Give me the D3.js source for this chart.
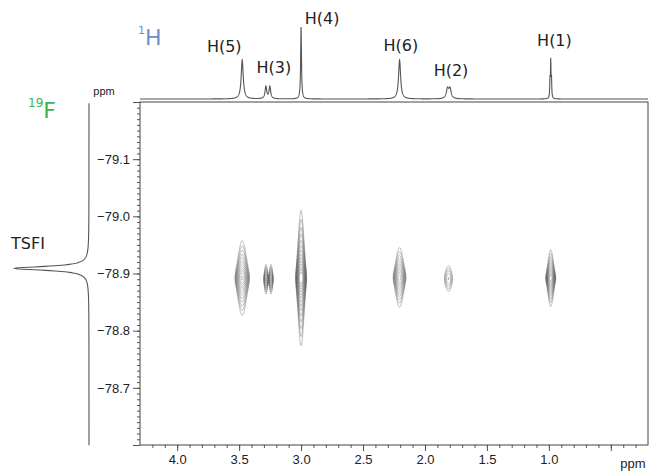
<!DOCTYPE html>
<html>
<head>
<meta charset="utf-8">
<script src="https://cdn.jsdelivr.net/npm/d3@7"></script>
<style>
  body { margin: 0; background: #fff; }
  svg { display: block; }
  .tick text { font-family: "Liberation Sans", Arial, sans-serif; font-size: 13px; fill: #222; }
  .lbl { font-family: "DejaVu Sans", Verdana, sans-serif; font-size: 16px; fill: #222; }
</style>
</head>
<body>
<svg id="chart" width="650" height="472"></svg>
<script>
// 1H peaks (ppm, relative height, half width ppm)
var hPos    = [3.475, 3.284, 3.252, 3.000, 2.205, 1.818, 1.798, 0.991, 0.985, 0.979];
var hHeight = [0.54,  0.17,  0.17,  1.00,  0.54,  0.135, 0.135, 0.25,  0.50,  0.25];
var hWidth  = [0.010, 0.008, 0.008, 0.004, 0.010, 0.011, 0.011, 0.0025, 0.0025, 0.0025];

// labels above the 1H trace
var hLabels = ["H(5)", "H(3)", "H(4)", "H(6)", "H(2)", "H(1)"];
var hLabelPpm = [3.62, 3.22, 2.83, 2.195, 1.79, 0.955];
var hLabelY = [46, 67, 18, 45, 70, 40];

// 19F peak
var fPos = -78.909, fHeight = 1.0, fWidth = 0.0042;

// cross peaks: 1H ppm, 19F ppm, intensity, gaussian sigma (1H), lorentz hw (19F)
var crossX  = [3.475, 3.283, 3.243, 3.000, 2.205, 1.810, 0.985];
var crossY  = [-78.892, -78.890, -78.890, -78.892, -78.893, -78.891, -78.892];
var crossA  = [25, 9, 9, 60, 20, 3.2, 40];
var crossSx = [0.023, 0.0085, 0.0085, 0.0154, 0.021, 0.0216, 0.0147];
var crossGy = [0.0134, 0.0095, 0.0095, 0.0156, 0.012, 0.015, 0.008];

var xTicks = [4.0, 3.5, 3.0, 2.5, 2.0, 1.5, 1.0, 0.5];
var yTicks = [-79.2, -79.1, -79.0, -78.9, -78.8, -78.7, -78.6];

var svg = d3.select('#chart');
var pLeft = 140, pRight = 648, pTop = 102, pBottom = 445;

var x = d3.scaleLinear().domain([4.3, 0.2]).range([pLeft, pRight]);
var y = d3.scaleLinear().domain([-79.2, -78.6]).range([pTop, pBottom]);

// x axis, minor then major
svg.append('g')
    .attr('transform', 'translate(0,' + pBottom + ')')
    .call(d3.axisBottom(x).tickValues(d3.range(42, 2, -1).map(function(d) { return d / 10; }))
        .tickSize(3).tickFormat(''))
    .call(function(g) { g.select('.domain').remove(); });
svg.append('g')
    .attr('transform', 'translate(0,' + pBottom + ')')
    .call(d3.axisBottom(x).tickValues(xTicks).tickSize(6).tickPadding(4)
        .tickFormat(function(d) { return d === 0.5 ? '' : d3.format('.1f')(d); }))
    .call(function(g) { g.select('.domain').remove(); });

// y axis
svg.append('g')
    .attr('transform', 'translate(' + pLeft + ',0)')
    .call(d3.axisLeft(y).tickValues(d3.range(-7920, -7860, 1).map(function(d) { return d / 100; }))
        .tickSize(3).tickFormat(''))
    .call(function(g) { g.select('.domain').remove(); });
svg.append('g')
    .attr('transform', 'translate(' + pLeft + ',0)')
    .call(d3.axisLeft(y).tickValues(yTicks).tickSize(7).tickPadding(3)
        .tickFormat(function(d) { return (d === -79.2 || d === -78.6) ? '' : d3.format('.1f')(d); }))
    .call(function(g) { g.select('.domain').remove(); });

svg.selectAll('.tick line').attr('stroke', '#555');

// frame
svg.append('rect')
    .attr('x', pLeft).attr('y', pTop)
    .attr('width', pRight - pLeft).attr('height', pBottom - pTop)
    .attr('fill', 'none').attr('stroke', '#444').attr('stroke-width', 1);

// 2D contours
var nx = pRight - pLeft, ny = pBottom - pTop;
var values = new Float64Array(nx * ny);
for (var j = 0; j < ny; j++) {
    var yv = y.invert(pTop + j + 0.5);
    for (var i = 0; i < nx; i++) {
        var xv = x.invert(pLeft + i + 0.5);
        var s = 0;
        for (var k = 0; k < crossX.length; k++) {
            var dx = xv - crossX[k], dy = yv - crossY[k];
            if (Math.abs(dx) > 0.15 || Math.abs(dy) > 0.3) continue;
            s += crossA[k] * Math.exp(-dx * dx / (2 * crossSx[k] * crossSx[k])) *
                 (crossGy[k] * crossGy[k] / (crossGy[k] * crossGy[k] + dy * dy));
        }
        values[j * nx + i] = s;
    }
}
var levels = d3.range(0, 14).map(function(k) { return Math.pow(1.33, k); });
var contours = d3.contours().size([nx, ny]).thresholds(levels)(values);
svg.append('g')
    .attr('transform', 'translate(' + pLeft + ',' + pTop + ')')
    .selectAll('path')
    .data(contours)
    .enter().append('path')
    .attr('d', d3.geoPath())
    .attr('fill', 'none')
    .attr('stroke', '#444')
    .attr('stroke-width', 0.5)
    .attr('stroke-opacity', 0.7);

// 1H trace on top
var hScale = d3.scaleLinear().domain([0, 1]).range([99, 27]);
var hPts = d3.range(4300, 199, -1).map(function(d) {
    var p = d / 1000, s = 0;
    for (var k = 0; k < hPos.length; k++) {
        var w = hWidth[k];
        s += hHeight[k] * w * w / (w * w + (p - hPos[k]) * (p - hPos[k]));
    }
    return [p, s];
});
svg.append('path')
    .datum(hPts)
    .attr('fill', 'none').attr('stroke', '#555').attr('stroke-width', 1.1)
    .attr('d', d3.line().x(function(d) { return x(d[0]); }).y(function(d) { return hScale(d[1]); }));

// 19F trace on the left
var fScale = d3.scaleLinear().domain([0, 1]).range([89, 15]);
var fPts = d3.range(-79198, -78599, 0.5).map(function(d) {
    var p = d / 1000;
    var s = fHeight * fWidth * fWidth / (fWidth * fWidth + (p - fPos) * (p - fPos));
    return [p, s];
});
svg.append('path')
    .datum(fPts)
    .attr('fill', 'none').attr('stroke', '#555').attr('stroke-width', 1.1)
    .attr('d', d3.line().x(function(d) { return fScale(d[1]); }).y(function(d) { return y(d[0]); }));

// peak labels
svg.selectAll('.hlabel')
    .data(hLabels)
    .enter().append('text')
    .attr('class', 'lbl')
    .attr('x', function(d, i) { return x(hLabelPpm[i]); })
    .attr('y', function(d, i) { return hLabelY[i] + 6; })
    .attr('text-anchor', 'middle')
    .text(function(d) { return d; });

svg.append('text').attr('class', 'lbl')
    .attr('x', 28).attr('y', 249).attr('text-anchor', 'middle').text('TSFI');

// nucleus labels
var h1 = svg.append('text').attr('x', 138).attr('y', 45)
    .style('font-family', '"DejaVu Sans", Verdana, sans-serif').style('fill', '#6a8fc8');
h1.append('tspan').style('font-size', '11px').attr('dy', -11).text('1');
h1.append('tspan').style('font-size', '22px').attr('dy', 11).text('H');

var f19 = svg.append('text').attr('x', 28).attr('y', 118)
    .style('font-family', '"DejaVu Sans", Verdana, sans-serif').style('fill', '#3cb44b');
f19.append('tspan').style('font-size', '12px').attr('dy', -11).text('19');
f19.append('tspan').style('font-size', '22px').attr('dy', 11).text('F');

svg.append('text')
    .attr('x', 104).attr('y', 95)
    .attr('text-anchor', 'middle')
    .style('font-family', '"Liberation Sans", Arial, sans-serif')
    .style('font-size', '11px').style('fill', '#222')
    .text('ppm');

svg.append('text')
    .attr('x', 633).attr('y', 468)
    .attr('text-anchor', 'middle')
    .style('font-family', '"Liberation Sans", Arial, sans-serif')
    .style('font-size', '13px').style('fill', '#222')
    .text('ppm');
</script>
</body>
</html>
